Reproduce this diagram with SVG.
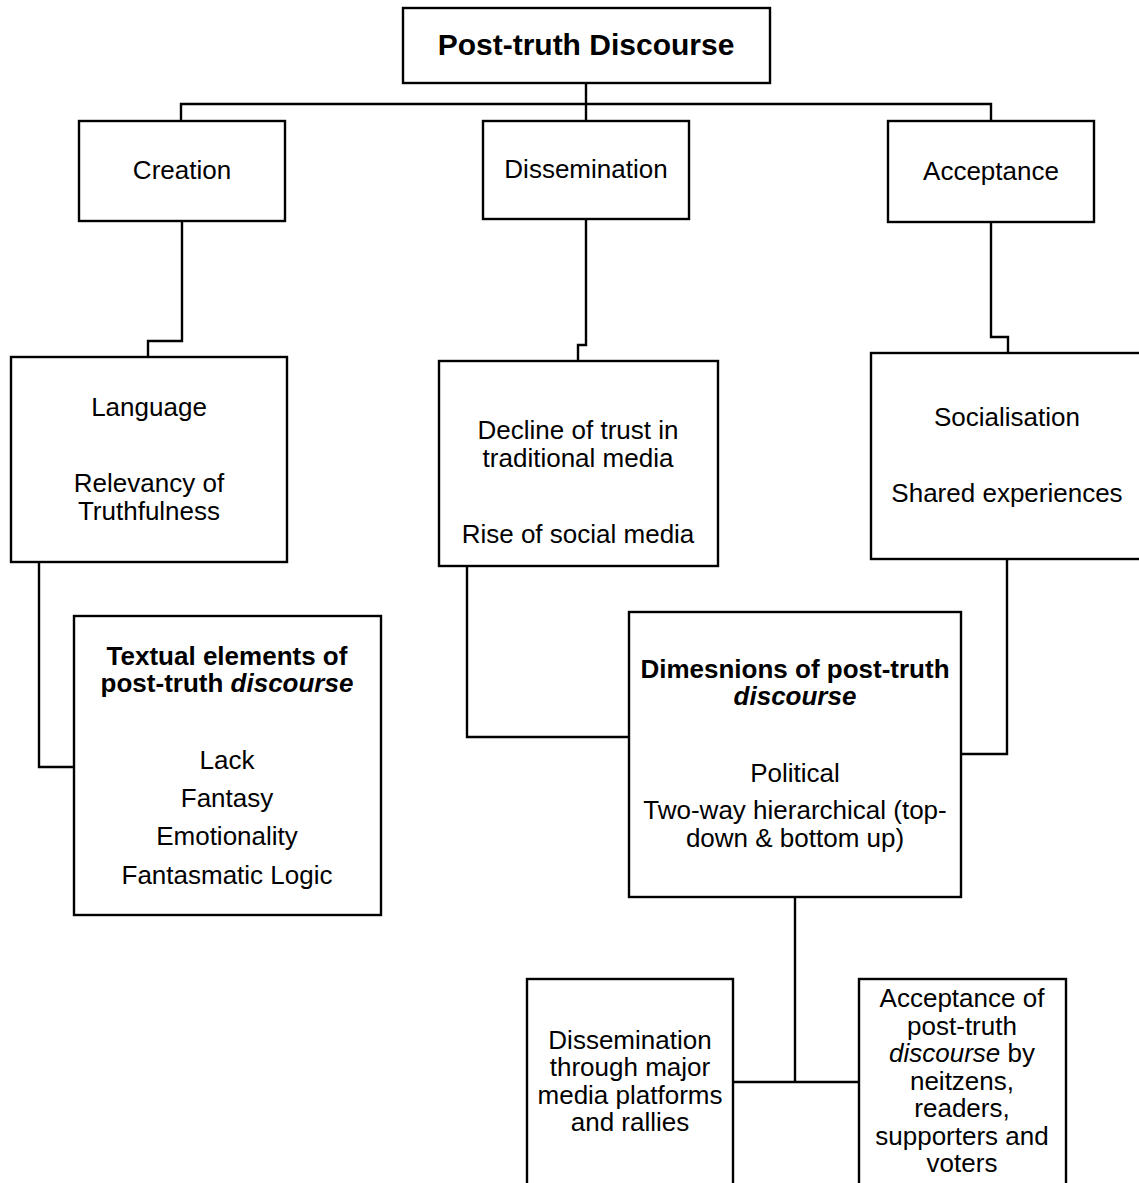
<svg xmlns="http://www.w3.org/2000/svg" width="1139" height="1183" viewBox="0 0 1139 1183">
<style>
.box{fill:#fff;stroke:#000;stroke-width:2.4}
.con{fill:none;stroke:#000;stroke-width:2.4}
text{font-family:"Liberation Sans",Arial,sans-serif;font-size:26px;fill:#000;text-anchor:middle}
.b{font-weight:bold}
.i{font-style:italic}
.t{font-size:30px;font-weight:bold}
</style>
<rect width="1139" height="1183" fill="#fff"/>
<g id="connectors">
<path class="con" d="M586,83 V104 M181,121 V104 H991 V121 M586,104 V121"/>
<path class="con" d="M182,221 V341 H148 V357"/>
<path class="con" d="M586,219 V345 H578 V361"/>
<path class="con" d="M991,222 V337 H1008 V353"/>
<path class="con" d="M39,562 V767 H74"/>
<path class="con" d="M467,566 V737 H629"/>
<path class="con" d="M1007,559 V754 H961"/>
<path class="con" d="M795,897 V1082 M733,1082 H859"/>
</g>
<g id="root">
<rect class="box" x="403" y="8" width="367" height="75"/>
<text class="t" x="586" y="55">Post-truth Discourse</text>
</g>
<g id="creation">
<rect class="box" x="79" y="121" width="206" height="100"/>
<text x="182" y="179">Creation</text>
</g>
<g id="dissemination">
<rect class="box" x="483" y="121" width="206" height="98"/>
<text x="586" y="178">Dissemination</text>
</g>
<g id="acceptance">
<rect class="box" x="888" y="121" width="206" height="101"/>
<text x="991" y="180">Acceptance</text>
</g>
<g id="language">
<rect class="box" x="11" y="357" width="276" height="205"/>
<text x="149" y="416">Language</text>
<text x="149" y="492">Relevancy of</text>
<text x="149" y="520">Truthfulness</text>
</g>
<g id="decline">
<rect class="box" x="439" y="361" width="279" height="205"/>
<text x="578" y="439">Decline of trust in</text>
<text x="578" y="467">traditional media</text>
<text x="578" y="543">Rise of social media</text>
</g>
<g id="socialisation">
<rect class="box" x="871" y="353" width="280" height="206"/>
<text x="1007" y="426">Socialisation</text>
<text x="1007" y="502">Shared experiences</text>
</g>
<g id="textual">
<rect class="box" x="74" y="616" width="307" height="299"/>
<text class="b" x="227" y="665">Textual elements of</text>
<text class="b" x="227" y="692">post-truth <tspan class="i">discourse</tspan></text>
<text x="227" y="769">Lack</text>
<text x="227" y="807">Fantasy</text>
<text x="227" y="845">Emotionality</text>
<text x="227" y="884">Fantasmatic Logic</text>
</g>
<g id="dimensions">
<rect class="box" x="629" y="612" width="332" height="285"/>
<text class="b" x="795" y="678">Dimesnions of post-truth</text>
<text class="b i" x="795" y="705">discourse</text>
<text x="795" y="782">Political</text>
<text x="795" y="819">Two-way hierarchical (top-</text>
<text x="795" y="847">down &amp; bottom up)</text>
</g>
<g id="dissemination-platforms">
<rect class="box" x="527" y="979" width="206" height="215"/>
<text x="630" y="1049">Dissemination</text>
<text x="630" y="1076">through major</text>
<text x="630" y="1104">media platforms</text>
<text x="630" y="1131">and rallies</text>
</g>
<g id="acceptance-netizens">
<rect class="box" x="859" y="979" width="207" height="215"/>
<text x="962" y="1007">Acceptance of</text>
<text x="962" y="1035">post-truth</text>
<text x="962" y="1062"><tspan class="i">discourse</tspan> by</text>
<text x="962" y="1090">neitzens,</text>
<text x="962" y="1117">readers,</text>
<text x="962" y="1145">supporters and</text>
<text x="962" y="1172">voters</text>
</g>
</svg>
